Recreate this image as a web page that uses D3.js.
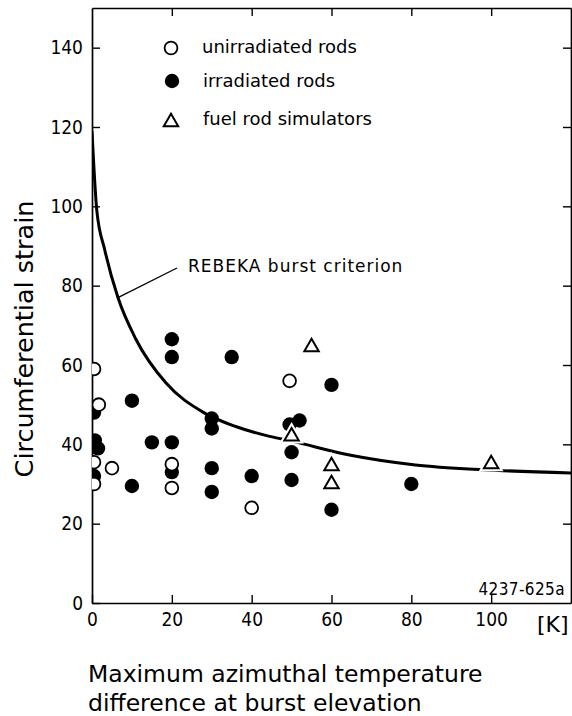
<!DOCTYPE html>
<html>
<head>
<meta charset="utf-8">
<script src="https://cdn.jsdelivr.net/npm/d3@7"></script>
<style>
    html, body { margin: 0; padding: 0; background: #fff; }
    svg { display: block; }
    text { font-family: "DejaVu Sans", sans-serif; fill: #000; }
    .tick text { font-family: "DejaVu Sans Condensed", "DejaVu Sans", sans-serif; font-stretch: condensed; font-size: 19px; }
</style>
</head>
<body>
<svg id="chart" width="572" height="716"></svg>
<script>
// values: [temperature difference K, circumferential strain %]
var unirradiated = [
    [0.5, 59], [1.7, 50], [0.5, 35.5], [0.5, 30], [5, 34],
    [20, 35], [20, 29], [40, 24], [49.5, 56]
];
var irradiated = [
    [0.5, 48], [0.7, 41], [1.5, 39], [0.5, 32], [10, 51], [10, 29.5],
    [15, 40.5], [20, 40.5], [20, 66.5], [20, 62], [20, 33],
    [30, 46.5], [30, 44], [30, 34], [30, 28], [35, 62], [40, 32],
    [49.5, 45], [52, 46], [50, 38], [50, 31], [60, 55], [60, 23.5], [80, 30]
];
var simulators = [
    [50, 42], [55, 64.5], [60, 34.5], [60, 30], [100, 35]
];
// REBEKA burst criterion
var criterion = [
    [0, 119], [1.2, 99], [3.2, 89], [6.5, 77], [11, 66.5], [18.5, 55.5],
    [28, 48], [36, 44.5], [44.5, 42], [50, 40.8], [64.5, 37.3],
    [81, 34.8], [98, 33.6], [120, 32.8]
];
var xTicks = [0, 20, 40, 60, 80, 100];
var yTicks = [0, 20, 40, 60, 80, 100, 120, 140];
var legendItems = ['unirradiated rods', 'irradiated rods', 'fuel rod simulators'];

(function () {
    var svg = d3.select('#chart');
    var frame = {left: 92, right: 571, top: 8, bottom: 603};

    var x = d3.scaleLinear().domain([0, 120]).range([frame.left, frame.right]);
    var y = d3.scaleLinear().domain([0, 150]).range([frame.bottom, frame.top]);

    svg.append('defs').append('clipPath').attr('id', 'plot')
        .append('rect')
        .attr('x', frame.left).attr('y', frame.top)
        .attr('width', frame.right - frame.left).attr('height', frame.bottom - frame.top);

    // axes, ticks all pointing inward
    function styleAxis(g) {
        g.attr('font-size', null);
        g.selectAll('.domain').attr('stroke-width', 1.7);
        g.selectAll('.tick line').attr('stroke-width', 1.4);
    }

    svg.append('g')
        .attr('transform', 'translate(0,' + frame.bottom + ')')
        .call(d3.axisBottom(x).tickValues(xTicks).tickSizeInner(-8).tickSizeOuter(0).tickPadding(10))
        .call(styleAxis);

    svg.append('g')
        .attr('transform', 'translate(' + frame.left + ',0)')
        .call(d3.axisLeft(y).tickValues(yTicks).tickSizeInner(-8).tickSizeOuter(0).tickPadding(9))
        .call(styleAxis);

    svg.append('g')
        .attr('transform', 'translate(0,' + frame.top + ')')
        .call(d3.axisTop(x).tickValues(xTicks.slice(1)).tickSizeInner(-8).tickSizeOuter(0).tickFormat(''))
        .call(styleAxis);

    svg.append('g')
        .attr('transform', 'translate(' + frame.right + ',0)')
        .call(d3.axisRight(y).tickValues(yTicks.slice(1)).tickSizeInner(-8).tickSizeOuter(0).tickFormat(''))
        .call(styleAxis);

    var plot = svg.append('g').attr('clip-path', 'url(#plot)');

    var line = d3.line()
        .x(function (d) { return x(d[0]); })
        .y(function (d) { return y(d[1]); })
        .curve(d3.curveMonotoneX);

    plot.append('path')
        .datum(criterion)
        .attr('d', line)
        .attr('fill', 'none')
        .attr('stroke', '#000')
        .attr('stroke-width', 3);

    // leader line and label of the criterion
    var anchor = criterion[3];
    svg.append('line')
        .attr('x1', x(anchor[0])).attr('y1', y(anchor[1]))
        .attr('x2', 177).attr('y2', 268)
        .attr('stroke', '#000').attr('stroke-width', 1.3);
    svg.append('text')
        .attr('x', 188).attr('y', 272)
        .attr('font-size', 17).attr('letter-spacing', 1)
        .text('REBEKA burst criterion');

    var tri = d3.symbol().type(d3.symbolTriangle).size(90);

    function drawFilled(g, data) {
        g.selectAll(null).data(data).enter().append('circle')
            .attr('cx', function (d) { return x(d[0]); })
            .attr('cy', function (d) { return y(d[1]); })
            .attr('r', 7.2)
            .attr('fill', '#000');
    }

    function drawOpen(g, data) {
        g.selectAll(null).data(data).enter().append('circle')
            .attr('cx', function (d) { return x(d[0]); })
            .attr('cy', function (d) { return y(d[1]); })
            .attr('r', 6.4)
            .attr('fill', '#fff')
            .attr('stroke', '#000')
            .attr('stroke-width', 1.8);
    }

    function drawTriangles(g, data) {
        var at = function (d) { return 'translate(' + x(d[0]) + ',' + y(d[1]) + ')'; };
        // white halo cuts the curve where a triangle sits on it
        g.selectAll(null).data(data).enter().append('path')
            .attr('d', tri).attr('transform', at)
            .attr('fill', '#fff').attr('stroke', '#fff').attr('stroke-width', 6);
        g.selectAll(null).data(data).enter().append('path')
            .attr('d', tri).attr('transform', at)
            .attr('fill', '#fff')
            .attr('stroke', '#000')
            .attr('stroke-width', 2);
    }

    drawFilled(plot, irradiated);
    drawOpen(plot, unirradiated);
    drawTriangles(plot, simulators);

    // legend
    var legend = svg.append('g');
    var legendY = [48, 81, 122];
    drawOpen(legend, [[x.invert(171), y.invert(legendY[0])]]);
    drawFilled(legend, [[x.invert(172), y.invert(legendY[1])]]);
    drawTriangles(legend, [[x.invert(171), y.invert(legendY[2])]]);

    legend.selectAll('text.item').data(legendItems).enter().append('text')
        .attr('class', 'item')
        .attr('x', function (d, i) { return i === 0 ? 202 : 203; })
        .attr('y', function (d, i) { return legendY[i] + [5, 6, 3][i]; })
        .attr('font-size', 18)
        .text(function (d) { return d; });

    // axis titles and figure number
    svg.append('text')
        .attr('transform', 'translate(33,339) rotate(-90)')
        .attr('text-anchor', 'middle')
        .attr('font-size', 25.5)
        .text('Circumferential strain');

    svg.append('text')
        .attr('x', 537).attr('y', 632)
        .attr('font-size', 22)
        .text('[K]');

    svg.append('text')
        .attr('x', 565).attr('y', 595)
        .attr('text-anchor', 'end')
        .attr('font-family', '"DejaVu Sans Condensed", "DejaVu Sans", sans-serif')
        .attr('font-stretch', 'condensed')
        .attr('font-size', 17)
        .attr('letter-spacing', 0.4)
        .text('4237-625a');

    var xTitle = svg.append('text').attr('font-size', 23.5);
    xTitle.append('tspan').attr('x', 88).attr('y', 682).text('Maximum azimuthal temperature');
    xTitle.append('tspan').attr('x', 88).attr('y', 711).text('difference at burst elevation');
})();
</script>
</body>
</html>
